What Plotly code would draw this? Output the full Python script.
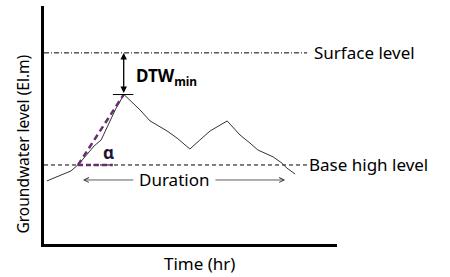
import plotly.graph_objects as go

# Hydrograph (schematic)
time_hr = [1.0, 5.8, 9.2, 11.9, 17.1, 19.5, 22.9, 24.6, 27.3, 32.8, 36.2, 42.0, 45.4,
           49.8, 53.2, 56.7, 62.5, 66.9, 70.3, 73.0, 78.2, 81.2, 82.9, 85.7]
level = [26.5, 29.0, 30.7, 33.6, 41.2, 43.7, 52.9, 57.1, 62.8, 56.3, 51.7, 47.5, 44.5,
         39.9, 43.7, 47.5, 51.7, 45.8, 42.4, 39.5, 36.6, 34.0, 31.9, 29.4]

surface_level = 80.3
base_level = 33.2
ref_line_end = 89.8

peak_t, peak_lv = 27.2, 62.8
cross_t = 11.6
angle_end_t = 23.5
dur_start, dur_end = 13.3, 82.3
dur_y = 26.9

FONT = "Noto Sans"
PURPLE = "#6a2c72"

fig = go.Figure()

# reference lines
fig.add_trace(go.Scatter(x=[0, ref_line_end], y=[surface_level, surface_level], mode="lines",
                         line=dict(color="black", width=1, dash="5px,2px,1px,2px"),
                         hoverinfo="skip", showlegend=False))
fig.add_trace(go.Scatter(x=[0, ref_line_end], y=[base_level, base_level], mode="lines",
                         line=dict(color="black", width=1, dash="4px,3px"),
                         hoverinfo="skip", showlegend=False))

# hydrograph
fig.add_trace(go.Scatter(x=time_hr, y=level, mode="lines",
                         line=dict(color="#333333", width=1),
                         hoverinfo="skip", showlegend=False))

# slope (alpha) lines
fig.add_trace(go.Scatter(x=[cross_t, peak_t], y=[base_level, peak_lv], mode="lines",
                         line=dict(color=PURPLE, width=2.5, dash="6px,4px"),
                         hoverinfo="skip", showlegend=False))
fig.add_trace(go.Scatter(x=[cross_t, angle_end_t], y=[base_level, base_level], mode="lines",
                         line=dict(color=PURPLE, width=2.5, dash="5px,3px"),
                         hoverinfo="skip", showlegend=False))

# peak tick
fig.add_trace(go.Scatter(x=[peak_t - 3.7, peak_t + 3.3], y=[peak_lv, peak_lv], mode="lines",
                         line=dict(color="black", width=1),
                         hoverinfo="skip", showlegend=False))

annotations = [
    # DTW double arrow
    dict(x=peak_t, y=surface_level, ax=peak_t, ay=peak_lv, xref="x", yref="y", axref="x", ayref="y",
         showarrow=True, arrowhead=2, arrowsize=1, arrowwidth=1.3, arrowside="end+start",
         arrowcolor="black", text=""),
    dict(x=41.8, y=70.5, xref="x", yref="y", xanchor="center", yanchor="middle",
         text="<b>DTW<sub>min</sub></b>", showarrow=False,
         font=dict(family=FONT, size=17, color="black")),
    dict(x=22.0, y=38.6, xref="x", yref="y", xanchor="center", yanchor="middle",
         text="<b>α</b>", showarrow=False,
         font=dict(family=FONT, size=17, color="#221433")),
    # Duration arrows
    dict(x=dur_start, y=dur_y, ax=31.0, ay=dur_y, xref="x", yref="y", axref="x", ayref="y",
         showarrow=True, arrowhead=5, arrowsize=1.2, arrowwidth=0.8, arrowcolor="#333333", text=""),
    dict(x=dur_end, y=dur_y, ax=58.0, ay=dur_y, xref="x", yref="y", axref="x", ayref="y",
         showarrow=True, arrowhead=5, arrowsize=1.2, arrowwidth=0.8, arrowcolor="#333333", text=""),
    dict(x=44.4, y=dur_y, xref="x", yref="y", xanchor="center", yanchor="middle",
         text="Duration", showarrow=False,
         font=dict(family=FONT, size=17, color="black")),
    # level labels
    dict(x=91.3, y=surface_level, xref="x", yref="y", text="Surface level", showarrow=False,
         xanchor="left", yanchor="middle", font=dict(family=FONT, size=17, color="black")),
    dict(x=89.9, y=base_level, xref="x", yref="y", text="Base high level", showarrow=False,
         xanchor="left", yanchor="middle", font=dict(family=FONT, size=17, color="black")),
    # axis titles
    dict(x=-0.07, y=0.42, xref="paper", yref="paper", text="Groundwater level (El.m)",
         xanchor="center", yanchor="middle",
         textangle=-90, showarrow=False, font=dict(family=FONT, size=15.5, color="black")),
    dict(x=0.532, y=-0.08, xref="paper", yref="paper", text="Time (hr)",
         xanchor="center", yanchor="middle",
         showarrow=False, font=dict(family=FONT, size=17, color="black")),
]

fig.update_layout(
    width=450, height=277,
    margin=dict(l=44, r=113, t=6, b=33),
    paper_bgcolor="white", plot_bgcolor="white",
    annotations=annotations,
    xaxis=dict(range=[0, 100], showgrid=False, zeroline=False, showticklabels=False,
               ticks="", showline=True, linecolor="black", linewidth=2.5, fixedrange=True),
    yaxis=dict(range=[0, 100], showgrid=False, zeroline=False, showticklabels=False,
               ticks="", showline=True, linecolor="black", linewidth=2.5, fixedrange=True),
)

fig.write_html("out.html", config=dict(displayModeBar=False))
